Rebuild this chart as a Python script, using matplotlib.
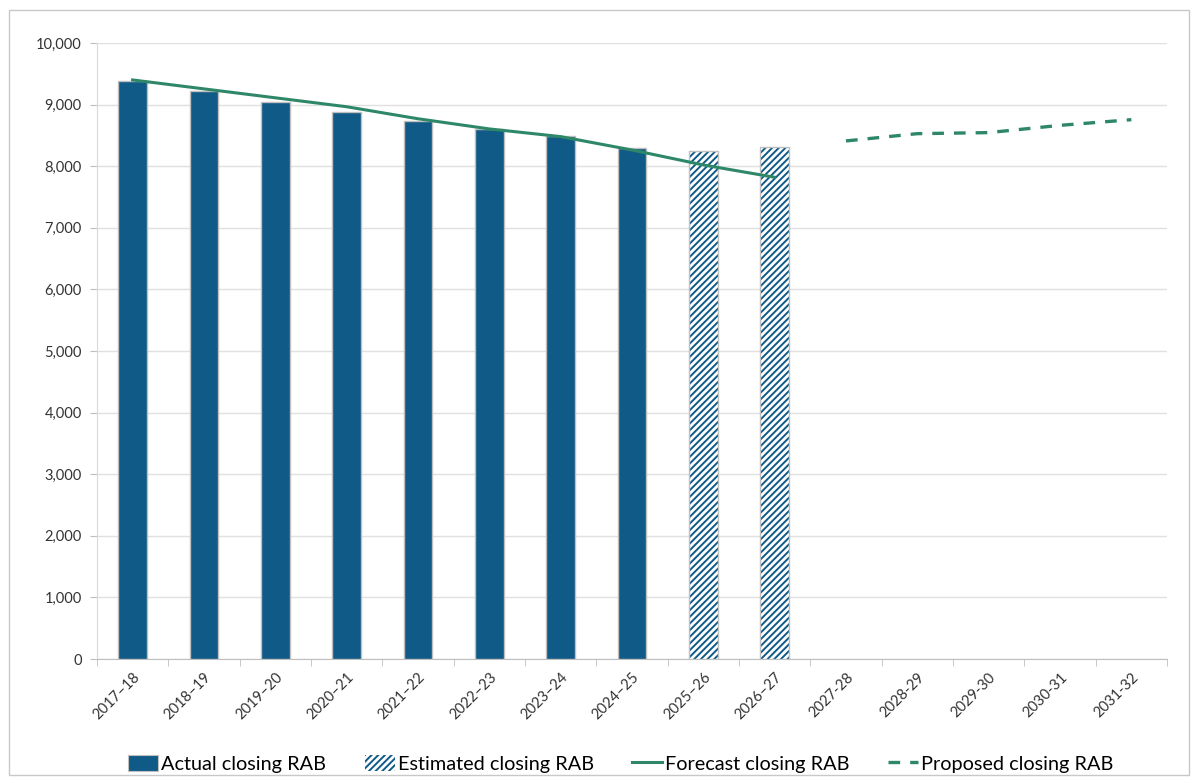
import matplotlib
matplotlib.use("Agg")
import matplotlib.pyplot as plt
from matplotlib.patches import Rectangle, Patch
from matplotlib.lines import Line2D
import numpy as np

plt.rcParams['font.family'] = ['Lato', 'DejaVu Sans']
plt.rcParams['hatch.linewidth'] = 1.4

years = ["2017–18", "2018–19", "2019–20", "2020–21", "2021–22", "2022–23",
         "2023–24", "2024–25", "2025–26", "2026–27", "2027-28", "2028-29",
         "2029-30", "2030-31", "2031-32"]
actual_rab = [9375, 9220, 9050, 8880, 8737, 8610, 8490, 8300]
estimated_rab = [8248, 8312]
forecast_rab = [9400, 9255, 9110, 8965, 8770, 8605, 8480, 8263, 8020, 7820]
proposed_rab = [8410, 8528, 8545, 8663, 8755]

bar_blue = "#0F5A87"
line_green = "#2E8868"
edge_grey = "#BFBFBF"

fig = plt.figure(figsize=(11.94, 7.8), dpi=100)
ax = fig.add_axes([0.0812, 0.1551, 0.8962, 0.7898])

x = np.arange(len(years))
n_act = len(actual_rab)
n_est = len(estimated_rab)
w = 0.4

ax.bar(x[:n_act], actual_rab, width=w, color=bar_blue, edgecolor=edge_grey,
       linewidth=1.0, zorder=3)
# hatched estimate bars: hatch drawn in blue, then a grey outline on top
ax.bar(x[n_act:n_act + n_est], estimated_rab, width=w, facecolor="white",
       edgecolor=bar_blue, hatch="/////", linewidth=0, zorder=3)
ax.bar(x[n_act:n_act + n_est], estimated_rab, width=w, facecolor="none",
       edgecolor=edge_grey, linewidth=1.0, zorder=4)

ax.plot(x[:len(forecast_rab)], forecast_rab, color=line_green, linewidth=2.2,
        zorder=5)
start = len(years) - len(proposed_rab)
ax.plot(x[start:], proposed_rab, color=line_green, linewidth=2.4,
        linestyle=(0, (3.5, 3)), zorder=5)

ax.set_xlim(-0.5, len(years) - 0.5)
ax.set_ylim(0, 10000)
ax.set_yticks(np.arange(0, 10001, 1000))
ax.set_yticklabels([f"{v:,}" for v in range(0, 10001, 1000)], fontsize=10.5,
                   color="#333333")
ax.yaxis.grid(True, color="#E0E0E0", linewidth=1.0, zorder=0)
ax.set_axisbelow(True)

ax.set_xticks(x)
ax.set_xticklabels(years, rotation=45, ha="right", rotation_mode="anchor",
                   fontsize=10.5, color="#333333")
ax.set_xticks(np.arange(-0.5, len(years), 1.0), minor=True)
ax.tick_params(axis="x", which="major", length=0, pad=8)
ax.tick_params(axis="x", which="minor", length=5, color="#BFBFBF")
ax.tick_params(axis="y", length=5, color="#BFBFBF", pad=6)

for s in ["top", "right"]:
    ax.spines[s].set_visible(False)
ax.spines["left"].set_color("#D9D9D9")
ax.spines["bottom"].set_color("#BFBFBF")

handles = [
    Patch(facecolor=bar_blue, edgecolor=edge_grey, linewidth=0.8),
    Patch(facecolor="white", edgecolor=bar_blue, hatch="/////", linewidth=0),
    Line2D([0], [0], color=line_green, linewidth=2.2),
    Line2D([0], [0], color=line_green, linewidth=2.4, linestyle=(0, (3.5, 3))),
]
labels = ["Actual closing RAB", "Estimated closing RAB", "Forecast closing RAB",
          "Proposed closing RAB"]
fig.legend(handles, labels, loc="center", bbox_to_anchor=(0.52, 0.021), ncol=4,
           frameon=False, fontsize=14.3, handlelength=1.5, handleheight=0.9,
           handletextpad=0.15, columnspacing=1.95)

fig.patches.append(Rectangle((9 / 1194, 5 / 780), 1180 / 1194, 765 / 780,
                             transform=fig.transFigure, fill=False,
                             edgecolor="#C8C8C8", linewidth=1.0))

fig.savefig("out.png", dpi=100)
